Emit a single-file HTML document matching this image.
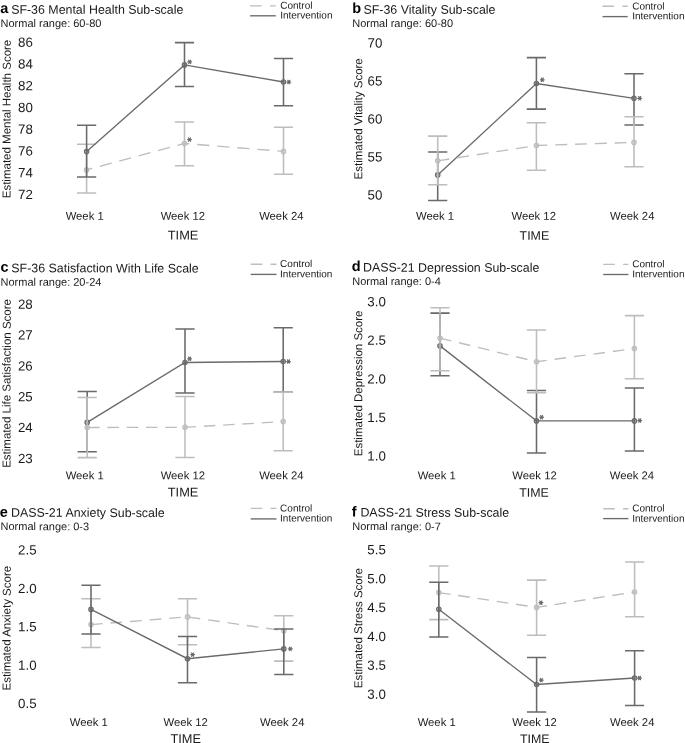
<!DOCTYPE html>
<html><head><meta charset="utf-8"><style>
html,body{margin:0;padding:0;background:#fff;}
svg{display:block;filter:grayscale(1);}
text{font-family:"Liberation Sans", sans-serif;}
</style></head><body>
<svg width="685" height="743" viewBox="0 0 685 743">
<rect width="685" height="743" fill="#fff"/>
<text x="0.3" y="13.1" transform="rotate(0.05 0.3 13.1)" font-size="14.5" font-weight="bold" fill="#000">a</text>
<text x="11.15" y="13.7" transform="rotate(0.05 11.15 13.7)" font-size="12.4" fill="#1a1a1a">SF-36 Mental Health Sub-scale</text>
<text x="0.5" y="27" transform="rotate(0.05 0.5 27)" font-size="11.0" fill="#1a1a1a">Normal range: 60-80</text>
<line x1="250.1" x2="275.8" y1="5.9" y2="5.9" stroke="#bdbdbd" stroke-width="1.35" stroke-dasharray="11.6 8.3"/>
<line x1="250.1" x2="275.8" y1="15.8" y2="15.8" stroke="#6a6a6a" stroke-width="1.35"/>
<text x="280.2" y="8.7" transform="rotate(0.05 280.2 8.7)" font-size="10.0" fill="#1a1a1a">Control</text>
<text x="280.2" y="18.5" transform="rotate(0.05 280.2 18.5)" font-size="10.0" fill="#1a1a1a">Intervention</text>
<text transform="translate(10.6,119) rotate(-89.95)" text-anchor="middle" font-size="11.5" fill="#1a1a1a">Estimated Mental Health Score</text>
<text x="32.83" y="46.74" transform="rotate(0.05 32.83 46.74)" font-size="13.3" text-anchor="end" fill="#1a1a1a">86</text>
<text x="32.83" y="68.48" transform="rotate(0.05 32.83 68.48)" font-size="13.3" text-anchor="end" fill="#1a1a1a">84</text>
<text x="32.83" y="90.22" transform="rotate(0.05 32.83 90.22)" font-size="13.3" text-anchor="end" fill="#1a1a1a">82</text>
<text x="32.83" y="111.97" transform="rotate(0.05 32.83 111.97)" font-size="13.3" text-anchor="end" fill="#1a1a1a">80</text>
<text x="32.83" y="133.71" transform="rotate(0.05 32.83 133.71)" font-size="13.3" text-anchor="end" fill="#1a1a1a">78</text>
<text x="32.83" y="155.45" transform="rotate(0.05 32.83 155.45)" font-size="13.3" text-anchor="end" fill="#1a1a1a">76</text>
<text x="32.83" y="177.2" transform="rotate(0.05 32.83 177.2)" font-size="13.3" text-anchor="end" fill="#1a1a1a">74</text>
<text x="32.83" y="198.94" transform="rotate(0.05 32.83 198.94)" font-size="13.3" text-anchor="end" fill="#1a1a1a">72</text>
<text x="65.64" y="219.7" transform="rotate(0.05 65.64 219.7)" font-size="11.3" fill="#1a1a1a">Week 1</text>
<text x="160.64" y="219.7" transform="rotate(0.05 160.64 219.7)" font-size="11.3" fill="#1a1a1a">Week 12</text>
<text x="259.14" y="219.7" transform="rotate(0.05 259.14 219.7)" font-size="11.3" fill="#1a1a1a">Week 24</text>
<text x="167.78" y="239.6" transform="rotate(0.05 167.78 239.6)" font-size="12.8" fill="#1a1a1a">TIME</text>
<path d="M86.6 144.2V193M77 144.2H96.2M77 193H96.2" stroke="#bdbdbd" stroke-width="1.55" fill="none"/>
<path d="M184.5 122V165.8M174.9 122H194.1M174.9 165.8H194.1" stroke="#bdbdbd" stroke-width="1.55" fill="none"/>
<path d="M283.5 127.2V174.2M273.9 127.2H293.1M273.9 174.2H293.1" stroke="#bdbdbd" stroke-width="1.55" fill="none"/>
<path d="M86.6 169.9 L184.5 143.5 L283.5 151.4" stroke="#bdbdbd" stroke-width="1.35" fill="none" stroke-dasharray="12.2 7.9" stroke-dashoffset="6.4"/>
<circle cx="86.6" cy="169.9" r="2.25" stroke="#bdbdbd" stroke-width="1.1" fill="#bdbdbd" fill-opacity="0.55"/>
<circle cx="184.5" cy="143.5" r="2.25" stroke="#bdbdbd" stroke-width="1.1" fill="#bdbdbd" fill-opacity="0.55"/>
<circle cx="283.5" cy="151.4" r="2.25" stroke="#bdbdbd" stroke-width="1.1" fill="#bdbdbd" fill-opacity="0.55"/>
<path d="M86.6 125.3V176.9M77 125.3H96.2M77 176.9H96.2" stroke="#6a6a6a" stroke-width="1.55" fill="none"/>
<path d="M184.5 42.6V86.5M174.9 42.6H194.1M174.9 86.5H194.1" stroke="#6a6a6a" stroke-width="1.55" fill="none"/>
<path d="M283.5 58.4V105.7M273.9 58.4H293.1M273.9 105.7H293.1" stroke="#6a6a6a" stroke-width="1.55" fill="none"/>
<path d="M86.6 151.6 L184.5 64.9 L283.5 82" stroke="#6a6a6a" stroke-width="1.35" fill="none"/>
<circle cx="86.6" cy="151.6" r="2.25" stroke="#6a6a6a" stroke-width="1.1" fill="#6a6a6a" fill-opacity="0.55"/>
<circle cx="184.5" cy="64.9" r="2.25" stroke="#6a6a6a" stroke-width="1.1" fill="#6a6a6a" fill-opacity="0.55"/>
<circle cx="283.5" cy="82" r="2.25" stroke="#6a6a6a" stroke-width="1.1" fill="#6a6a6a" fill-opacity="0.55"/>
<path d="M187.8 61.9H191.6M188.75 60.25L190.65 63.55M188.75 63.55L190.65 60.25" stroke="#6a6a6a" stroke-width="1.25" stroke-linecap="round" fill="none"/>
<path d="M187.6 139.6H191.4M188.55 137.95L190.45 141.25M188.55 141.25L190.45 137.95" stroke="#6a6a6a" stroke-width="1.25" stroke-linecap="round" fill="none"/>
<path d="M286.9 82H290.7M287.85 80.35L289.75 83.65M287.85 83.65L289.75 80.35" stroke="#6a6a6a" stroke-width="1.25" stroke-linecap="round" fill="none"/>
<text x="352.2" y="13.1" transform="rotate(0.05 352.2 13.1)" font-size="14.5" font-weight="bold" fill="#000">b</text>
<text x="363.5" y="13.7" transform="rotate(0.05 363.5 13.7)" font-size="12.4" fill="#1a1a1a">SF-36 Vitality Sub-scale</text>
<text x="352.2" y="27" transform="rotate(0.05 352.2 27)" font-size="11.0" fill="#1a1a1a">Normal range: 60-80</text>
<line x1="602.5" x2="627.7" y1="6.2" y2="6.2" stroke="#bdbdbd" stroke-width="1.35" stroke-dasharray="11.6 8.3"/>
<line x1="602.5" x2="627.7" y1="16.6" y2="16.6" stroke="#6a6a6a" stroke-width="1.35"/>
<text x="632.2" y="9.5" transform="rotate(0.05 632.2 9.5)" font-size="10.0" fill="#1a1a1a">Control</text>
<text x="632.2" y="19.3" transform="rotate(0.05 632.2 19.3)" font-size="10.0" fill="#1a1a1a">Intervention</text>
<text transform="translate(362.2,118.85) rotate(-89.95)" text-anchor="middle" font-size="11.5" fill="#1a1a1a">Estimated Vitality Score</text>
<text x="382.33" y="47.44" transform="rotate(0.05 382.33 47.44)" font-size="13.3" text-anchor="end" fill="#1a1a1a">70</text>
<text x="382.33" y="85.44" transform="rotate(0.05 382.33 85.44)" font-size="13.3" text-anchor="end" fill="#1a1a1a">65</text>
<text x="382.33" y="123.44" transform="rotate(0.05 382.33 123.44)" font-size="13.3" text-anchor="end" fill="#1a1a1a">60</text>
<text x="382.33" y="161.44" transform="rotate(0.05 382.33 161.44)" font-size="13.3" text-anchor="end" fill="#1a1a1a">55</text>
<text x="382.33" y="199.44" transform="rotate(0.05 382.33 199.44)" font-size="13.3" text-anchor="end" fill="#1a1a1a">50</text>
<text x="416.04" y="219.8" transform="rotate(0.05 416.04 219.8)" font-size="11.3" fill="#1a1a1a">Week 1</text>
<text x="511.54" y="219.8" transform="rotate(0.05 511.54 219.8)" font-size="11.3" fill="#1a1a1a">Week 12</text>
<text x="610.04" y="219.8" transform="rotate(0.05 610.04 219.8)" font-size="11.3" fill="#1a1a1a">Week 24</text>
<text x="519.59" y="239.8" transform="rotate(0.05 519.59 239.8)" font-size="12.4" fill="#1a1a1a">TIME</text>
<path d="M437.7 151.9V200.5M428.1 151.9H447.3M428.1 200.5H447.3" stroke="#6a6a6a" stroke-width="1.55" fill="none"/>
<path d="M536.4 57.6V109.1M526.8 57.6H546M526.8 109.1H546" stroke="#6a6a6a" stroke-width="1.55" fill="none"/>
<path d="M634 73.7V125M624.4 73.7H643.6M624.4 125H643.6" stroke="#6a6a6a" stroke-width="1.55" fill="none"/>
<path d="M437.7 174.9 L536.4 83.5 L634 98.3" stroke="#6a6a6a" stroke-width="1.35" fill="none"/>
<circle cx="437.7" cy="174.9" r="2.25" stroke="#6a6a6a" stroke-width="1.1" fill="#6a6a6a" fill-opacity="0.55"/>
<circle cx="536.4" cy="83.5" r="2.25" stroke="#6a6a6a" stroke-width="1.1" fill="#6a6a6a" fill-opacity="0.55"/>
<circle cx="634" cy="98.3" r="2.25" stroke="#6a6a6a" stroke-width="1.1" fill="#6a6a6a" fill-opacity="0.55"/>
<path d="M437.7 136.1V184.8M428.1 136.1H447.3M428.1 184.8H447.3" stroke="#bdbdbd" stroke-width="1.55" fill="none"/>
<path d="M536.4 122.8V170.2M526.8 122.8H546M526.8 170.2H546" stroke="#bdbdbd" stroke-width="1.55" fill="none"/>
<path d="M634 116.8V166.7M624.4 116.8H643.6M624.4 166.7H643.6" stroke="#bdbdbd" stroke-width="1.55" fill="none"/>
<path d="M437.7 160.8 L536.4 145.5 L634 142.4" stroke="#bdbdbd" stroke-width="1.35" fill="none" stroke-dasharray="11.9 7.9" stroke-dashoffset="0"/>
<circle cx="437.7" cy="160.8" r="2.25" stroke="#bdbdbd" stroke-width="1.1" fill="#bdbdbd" fill-opacity="0.55"/>
<circle cx="536.4" cy="145.5" r="2.25" stroke="#bdbdbd" stroke-width="1.1" fill="#bdbdbd" fill-opacity="0.55"/>
<circle cx="634" cy="142.4" r="2.25" stroke="#bdbdbd" stroke-width="1.1" fill="#bdbdbd" fill-opacity="0.55"/>
<path d="M540.4 79.8H544.2M541.35 78.15L543.25 81.45M541.35 81.45L543.25 78.15" stroke="#6a6a6a" stroke-width="1.25" stroke-linecap="round" fill="none"/>
<path d="M637.8 98.3H641.6M638.75 96.65L640.65 99.95M638.75 99.95L640.65 96.65" stroke="#6a6a6a" stroke-width="1.25" stroke-linecap="round" fill="none"/>
<text x="0.6" y="271.7" transform="rotate(0.05 0.6 271.7)" font-size="14.5" font-weight="bold" fill="#000">c</text>
<text x="11.35" y="272.3" transform="rotate(0.05 11.35 272.3)" font-size="12.4" fill="#1a1a1a">SF-36 Satisfaction With Life Scale</text>
<text x="0.5" y="285.7" transform="rotate(0.05 0.5 285.7)" font-size="11.0" fill="#1a1a1a">Normal range: 20-24</text>
<line x1="250.7" x2="276.5" y1="264.2" y2="264.2" stroke="#bdbdbd" stroke-width="1.35" stroke-dasharray="11.6 8.3"/>
<line x1="250.7" x2="276.5" y1="274.4" y2="274.4" stroke="#6a6a6a" stroke-width="1.35"/>
<text x="280.1" y="267" transform="rotate(0.05 280.1 267)" font-size="10.0" fill="#1a1a1a">Control</text>
<text x="280.1" y="277.2" transform="rotate(0.05 280.1 277.2)" font-size="10.0" fill="#1a1a1a">Intervention</text>
<text transform="translate(10.6,383.45) rotate(-89.95)" text-anchor="middle" font-size="11.5" fill="#1a1a1a">Estimated Life Satisfaction Score</text>
<text x="32.73" y="308.74" transform="rotate(0.05 32.73 308.74)" font-size="13.3" text-anchor="end" fill="#1a1a1a">28</text>
<text x="32.73" y="339.59" transform="rotate(0.05 32.73 339.59)" font-size="13.3" text-anchor="end" fill="#1a1a1a">27</text>
<text x="32.73" y="370.44" transform="rotate(0.05 32.73 370.44)" font-size="13.3" text-anchor="end" fill="#1a1a1a">26</text>
<text x="32.73" y="401.29" transform="rotate(0.05 32.73 401.29)" font-size="13.3" text-anchor="end" fill="#1a1a1a">25</text>
<text x="32.73" y="432.14" transform="rotate(0.05 32.73 432.14)" font-size="13.3" text-anchor="end" fill="#1a1a1a">24</text>
<text x="32.73" y="462.99" transform="rotate(0.05 32.73 462.99)" font-size="13.3" text-anchor="end" fill="#1a1a1a">23</text>
<text x="65.64" y="479.2" transform="rotate(0.05 65.64 479.2)" font-size="11.3" fill="#1a1a1a">Week 1</text>
<text x="160.64" y="479.2" transform="rotate(0.05 160.64 479.2)" font-size="11.3" fill="#1a1a1a">Week 12</text>
<text x="259.14" y="479.2" transform="rotate(0.05 259.14 479.2)" font-size="11.3" fill="#1a1a1a">Week 24</text>
<text x="167.78" y="496.6" transform="rotate(0.05 167.78 496.6)" font-size="12.8" fill="#1a1a1a">TIME</text>
<path d="M87.2 391.4V451.8M77.6 391.4H96.8M77.6 451.8H96.8" stroke="#6a6a6a" stroke-width="1.55" fill="none"/>
<path d="M185 329V393M175.4 329H194.6M175.4 393H194.6" stroke="#6a6a6a" stroke-width="1.55" fill="none"/>
<path d="M283.2 327.8V392.1M273.6 327.8H292.8M273.6 392.1H292.8" stroke="#6a6a6a" stroke-width="1.55" fill="none"/>
<path d="M87.2 422.4 L185 362.5 L283.2 361.5" stroke="#6a6a6a" stroke-width="1.35" fill="none"/>
<circle cx="87.2" cy="422.4" r="2.25" stroke="#6a6a6a" stroke-width="1.1" fill="#6a6a6a" fill-opacity="0.55"/>
<circle cx="185" cy="362.5" r="2.25" stroke="#6a6a6a" stroke-width="1.1" fill="#6a6a6a" fill-opacity="0.55"/>
<circle cx="283.2" cy="361.5" r="2.25" stroke="#6a6a6a" stroke-width="1.1" fill="#6a6a6a" fill-opacity="0.55"/>
<path d="M87.2 397.4V457.6M77.6 397.4H96.8M77.6 457.6H96.8" stroke="#bdbdbd" stroke-width="1.55" fill="none"/>
<path d="M185 396.4V457.5M175.4 396.4H194.6M175.4 457.5H194.6" stroke="#bdbdbd" stroke-width="1.55" fill="none"/>
<path d="M283.2 392.1V450.8M273.6 392.1H292.8M273.6 450.8H292.8" stroke="#bdbdbd" stroke-width="1.55" fill="none"/>
<path d="M87.2 427.5 L185 427.3 L283.2 421.6" stroke="#bdbdbd" stroke-width="1.35" fill="none" stroke-dasharray="11.5 7.8" stroke-dashoffset="18.4"/>
<circle cx="87.2" cy="427.5" r="2.25" stroke="#bdbdbd" stroke-width="1.1" fill="#bdbdbd" fill-opacity="0.55"/>
<circle cx="185" cy="427.3" r="2.25" stroke="#bdbdbd" stroke-width="1.1" fill="#bdbdbd" fill-opacity="0.55"/>
<circle cx="283.2" cy="421.6" r="2.25" stroke="#bdbdbd" stroke-width="1.1" fill="#bdbdbd" fill-opacity="0.55"/>
<path d="M187.7 358.8H191.5M188.65 357.15L190.55 360.45M188.65 360.45L190.55 357.15" stroke="#6a6a6a" stroke-width="1.25" stroke-linecap="round" fill="none"/>
<path d="M286.6 361.5H290.4M287.55 359.85L289.45 363.15M287.55 363.15L289.45 359.85" stroke="#6a6a6a" stroke-width="1.25" stroke-linecap="round" fill="none"/>
<text x="351.8" y="271" transform="rotate(0.05 351.8 271)" font-size="14.5" font-weight="bold" fill="#000">d</text>
<text x="363" y="271.6" transform="rotate(0.05 363 271.6)" font-size="12.4" fill="#1a1a1a">DASS-21 Depression Sub-scale</text>
<text x="352.2" y="285" transform="rotate(0.05 352.2 285)" font-size="11.0" fill="#1a1a1a">Normal range: 0-4</text>
<line x1="603.2" x2="628.4" y1="264.4" y2="264.4" stroke="#bdbdbd" stroke-width="1.35" stroke-dasharray="11.6 8.3"/>
<line x1="603.2" x2="628.4" y1="274.5" y2="274.5" stroke="#6a6a6a" stroke-width="1.35"/>
<text x="632.2" y="267.2" transform="rotate(0.05 632.2 267.2)" font-size="10.0" fill="#1a1a1a">Control</text>
<text x="632.2" y="277.3" transform="rotate(0.05 632.2 277.3)" font-size="10.0" fill="#1a1a1a">Intervention</text>
<text transform="translate(362.2,383.4) rotate(-89.95)" text-anchor="middle" font-size="11.5" fill="#1a1a1a">Estimated Depression Score</text>
<text x="385.86" y="306.29" transform="rotate(0.05 385.86 306.29)" font-size="13.3" text-anchor="end" fill="#1a1a1a">3.0</text>
<text x="385.86" y="344.88" transform="rotate(0.05 385.86 344.88)" font-size="13.3" text-anchor="end" fill="#1a1a1a">2.5</text>
<text x="385.86" y="383.46" transform="rotate(0.05 385.86 383.46)" font-size="13.3" text-anchor="end" fill="#1a1a1a">2.0</text>
<text x="385.86" y="422.05" transform="rotate(0.05 385.86 422.05)" font-size="13.3" text-anchor="end" fill="#1a1a1a">1.5</text>
<text x="385.86" y="460.64" transform="rotate(0.05 385.86 460.64)" font-size="13.3" text-anchor="end" fill="#1a1a1a">1.0</text>
<text x="417.64" y="479.2" transform="rotate(0.05 417.64 479.2)" font-size="11.3" fill="#1a1a1a">Week 1</text>
<text x="512.34" y="479.2" transform="rotate(0.05 512.34 479.2)" font-size="11.3" fill="#1a1a1a">Week 12</text>
<text x="609.74" y="479.2" transform="rotate(0.05 609.74 479.2)" font-size="11.3" fill="#1a1a1a">Week 24</text>
<text x="519.19" y="496.7" transform="rotate(0.05 519.19 496.7)" font-size="12.4" fill="#1a1a1a">TIME</text>
<path d="M440 313.1V375.8M430.4 313.1H449.6M430.4 375.8H449.6" stroke="#6a6a6a" stroke-width="1.55" fill="none"/>
<path d="M536.5 390.4V453M526.9 390.4H546.1M526.9 453H546.1" stroke="#6a6a6a" stroke-width="1.55" fill="none"/>
<path d="M634.4 387.9V451M624.8 387.9H644M624.8 451H644" stroke="#6a6a6a" stroke-width="1.55" fill="none"/>
<path d="M440 345.9 L536.5 420.9 L634.4 420.9" stroke="#6a6a6a" stroke-width="1.35" fill="none"/>
<circle cx="440" cy="345.9" r="2.25" stroke="#6a6a6a" stroke-width="1.1" fill="#6a6a6a" fill-opacity="0.55"/>
<circle cx="536.5" cy="420.9" r="2.25" stroke="#6a6a6a" stroke-width="1.1" fill="#6a6a6a" fill-opacity="0.55"/>
<circle cx="634.4" cy="420.9" r="2.25" stroke="#6a6a6a" stroke-width="1.1" fill="#6a6a6a" fill-opacity="0.55"/>
<path d="M440 307.8V370.7M430.4 307.8H449.6M430.4 370.7H449.6" stroke="#bdbdbd" stroke-width="1.55" fill="none"/>
<path d="M536.5 330V392.7M526.9 330H546.1M526.9 392.7H546.1" stroke="#bdbdbd" stroke-width="1.55" fill="none"/>
<path d="M634.4 315.6V378.7M624.8 315.6H644M624.8 378.7H644" stroke="#bdbdbd" stroke-width="1.55" fill="none"/>
<path d="M440 338.1 L536.5 361.7 L634.4 348.6" stroke="#bdbdbd" stroke-width="1.35" fill="none" stroke-dasharray="11.6 8" stroke-dashoffset="0"/>
<circle cx="440" cy="338.1" r="2.25" stroke="#bdbdbd" stroke-width="1.1" fill="#bdbdbd" fill-opacity="0.55"/>
<circle cx="536.5" cy="361.7" r="2.25" stroke="#bdbdbd" stroke-width="1.1" fill="#bdbdbd" fill-opacity="0.55"/>
<circle cx="634.4" cy="348.6" r="2.25" stroke="#bdbdbd" stroke-width="1.1" fill="#bdbdbd" fill-opacity="0.55"/>
<path d="M539.7 417.2H543.5M540.65 415.55L542.55 418.85M540.65 418.85L542.55 415.55" stroke="#6a6a6a" stroke-width="1.25" stroke-linecap="round" fill="none"/>
<path d="M637.8 420.5H641.6M638.75 418.85L640.65 422.15M638.75 422.15L640.65 418.85" stroke="#6a6a6a" stroke-width="1.25" stroke-linecap="round" fill="none"/>
<text x="-0.2" y="516.8" transform="rotate(0.05 -0.2 516.8)" font-size="14.5" font-weight="bold" fill="#000">e</text>
<text x="11" y="516.8" transform="rotate(0.05 11 516.8)" font-size="12.4" fill="#1a1a1a">DASS-21 Anxiety Sub-scale</text>
<text x="0.5" y="530.1" transform="rotate(0.05 0.5 530.1)" font-size="11.0" fill="#1a1a1a">Normal range: 0-3</text>
<line x1="250.7" x2="276.5" y1="508.4" y2="508.4" stroke="#bdbdbd" stroke-width="1.35" stroke-dasharray="11.6 8.3"/>
<line x1="250.7" x2="276.5" y1="518.9" y2="518.9" stroke="#6a6a6a" stroke-width="1.35"/>
<text x="280.1" y="511.5" transform="rotate(0.05 280.1 511.5)" font-size="10.0" fill="#1a1a1a">Control</text>
<text x="280.1" y="521.5" transform="rotate(0.05 280.1 521.5)" font-size="10.0" fill="#1a1a1a">Intervention</text>
<text transform="translate(10.6,628.2) rotate(-89.95)" text-anchor="middle" font-size="11.5" fill="#1a1a1a">Estimated Anxiety Score</text>
<text x="36.56" y="554.64" transform="rotate(0.05 36.56 554.64)" font-size="13.3" text-anchor="end" fill="#1a1a1a">2.5</text>
<text x="36.56" y="593.01" transform="rotate(0.05 36.56 593.01)" font-size="13.3" text-anchor="end" fill="#1a1a1a">2.0</text>
<text x="36.56" y="631.39" transform="rotate(0.05 36.56 631.39)" font-size="13.3" text-anchor="end" fill="#1a1a1a">1.5</text>
<text x="36.56" y="669.76" transform="rotate(0.05 36.56 669.76)" font-size="13.3" text-anchor="end" fill="#1a1a1a">1.0</text>
<text x="36.56" y="708.14" transform="rotate(0.05 36.56 708.14)" font-size="13.3" text-anchor="end" fill="#1a1a1a">0.5</text>
<text x="69.74" y="725.9" transform="rotate(0.05 69.74 725.9)" font-size="11.3" fill="#1a1a1a">Week 1</text>
<text x="163.44" y="725.9" transform="rotate(0.05 163.44 725.9)" font-size="11.3" fill="#1a1a1a">Week 12</text>
<text x="260.04" y="725.9" transform="rotate(0.05 260.04 725.9)" font-size="11.3" fill="#1a1a1a">Week 24</text>
<text x="170.38" y="743.1" transform="rotate(0.05 170.38 743.1)" font-size="12.8" fill="#1a1a1a">TIME</text>
<path d="M91 598.8V647.5M81.4 598.8H100.6M81.4 647.5H100.6" stroke="#bdbdbd" stroke-width="1.55" fill="none"/>
<path d="M187.5 598.8V644.8M177.9 598.8H197.1M177.9 644.8H197.1" stroke="#bdbdbd" stroke-width="1.55" fill="none"/>
<path d="M283.8 615.8V661.1M274.2 615.8H293.4M274.2 661.1H293.4" stroke="#bdbdbd" stroke-width="1.55" fill="none"/>
<path d="M91 624.6 L187.5 616.9 L283.8 630.8" stroke="#bdbdbd" stroke-width="1.35" fill="none" stroke-dasharray="11.7 7.9" stroke-dashoffset="0"/>
<circle cx="91" cy="624.6" r="2.25" stroke="#bdbdbd" stroke-width="1.1" fill="#bdbdbd" fill-opacity="0.55"/>
<circle cx="187.5" cy="616.9" r="2.25" stroke="#bdbdbd" stroke-width="1.1" fill="#bdbdbd" fill-opacity="0.55"/>
<circle cx="283.8" cy="630.8" r="2.25" stroke="#bdbdbd" stroke-width="1.1" fill="#bdbdbd" fill-opacity="0.55"/>
<path d="M91 585.2V634M81.4 585.2H100.6M81.4 634H100.6" stroke="#6a6a6a" stroke-width="1.55" fill="none"/>
<path d="M187.5 636.5V682.7M177.9 636.5H197.1M177.9 682.7H197.1" stroke="#6a6a6a" stroke-width="1.55" fill="none"/>
<path d="M283.8 628.9V674.4M274.2 628.9H293.4M274.2 674.4H293.4" stroke="#6a6a6a" stroke-width="1.55" fill="none"/>
<path d="M91 609.4 L187.5 658.7 L283.8 648.9" stroke="#6a6a6a" stroke-width="1.35" fill="none"/>
<circle cx="91" cy="609.4" r="2.25" stroke="#6a6a6a" stroke-width="1.1" fill="#6a6a6a" fill-opacity="0.55"/>
<circle cx="187.5" cy="658.7" r="2.25" stroke="#6a6a6a" stroke-width="1.1" fill="#6a6a6a" fill-opacity="0.55"/>
<circle cx="283.8" cy="648.9" r="2.25" stroke="#6a6a6a" stroke-width="1.1" fill="#6a6a6a" fill-opacity="0.55"/>
<path d="M190.7 654.6H194.5M191.65 652.95L193.55 656.25M191.65 656.25L193.55 652.95" stroke="#6a6a6a" stroke-width="1.25" stroke-linecap="round" fill="none"/>
<path d="M288.4 648.9H292.2M289.35 647.25L291.25 650.55M289.35 650.55L291.25 647.25" stroke="#6a6a6a" stroke-width="1.25" stroke-linecap="round" fill="none"/>
<text x="351.7" y="516.6" transform="rotate(0.05 351.7 516.6)" font-size="14.5" font-weight="bold" fill="#000">f</text>
<text x="360.4" y="516.6" transform="rotate(0.05 360.4 516.6)" font-size="12.4" fill="#1a1a1a">DASS-21 Stress Sub-scale</text>
<text x="352.2" y="530.1" transform="rotate(0.05 352.2 530.1)" font-size="11.0" fill="#1a1a1a">Normal range: 0-7</text>
<line x1="603.2" x2="628.4" y1="508.7" y2="508.7" stroke="#bdbdbd" stroke-width="1.35" stroke-dasharray="11.6 8.3"/>
<line x1="603.2" x2="628.4" y1="518.6" y2="518.6" stroke="#6a6a6a" stroke-width="1.35"/>
<text x="632.2" y="511.4" transform="rotate(0.05 632.2 511.4)" font-size="10.0" fill="#1a1a1a">Control</text>
<text x="632.2" y="521.8" transform="rotate(0.05 632.2 521.8)" font-size="10.0" fill="#1a1a1a">Intervention</text>
<text transform="translate(362.2,628.15) rotate(-89.95)" text-anchor="middle" font-size="11.5" fill="#1a1a1a">Estimated Stress Score</text>
<text x="385.86" y="554.34" transform="rotate(0.05 385.86 554.34)" font-size="13.3" text-anchor="end" fill="#1a1a1a">5.5</text>
<text x="385.86" y="583.22" transform="rotate(0.05 385.86 583.22)" font-size="13.3" text-anchor="end" fill="#1a1a1a">5.0</text>
<text x="385.86" y="612.1" transform="rotate(0.05 385.86 612.1)" font-size="13.3" text-anchor="end" fill="#1a1a1a">4.5</text>
<text x="385.86" y="640.98" transform="rotate(0.05 385.86 640.98)" font-size="13.3" text-anchor="end" fill="#1a1a1a">4.0</text>
<text x="385.86" y="669.86" transform="rotate(0.05 385.86 669.86)" font-size="13.3" text-anchor="end" fill="#1a1a1a">3.5</text>
<text x="385.86" y="698.74" transform="rotate(0.05 385.86 698.74)" font-size="13.3" text-anchor="end" fill="#1a1a1a">3.0</text>
<text x="417.64" y="726" transform="rotate(0.05 417.64 726)" font-size="11.3" fill="#1a1a1a">Week 1</text>
<text x="512.34" y="726" transform="rotate(0.05 512.34 726)" font-size="11.3" fill="#1a1a1a">Week 12</text>
<text x="610.04" y="726" transform="rotate(0.05 610.04 726)" font-size="11.3" fill="#1a1a1a">Week 24</text>
<text x="519.99" y="743.1" transform="rotate(0.05 519.99 743.1)" font-size="12.4" fill="#1a1a1a">TIME</text>
<path d="M438.8 565.9V619.6M429.2 565.9H448.4M429.2 619.6H448.4" stroke="#bdbdbd" stroke-width="1.55" fill="none"/>
<path d="M536.6 580.1V635.3M527 580.1H546.2M527 635.3H546.2" stroke="#bdbdbd" stroke-width="1.55" fill="none"/>
<path d="M634.6 561.9V616.7M625 561.9H644.2M625 616.7H644.2" stroke="#bdbdbd" stroke-width="1.55" fill="none"/>
<path d="M438.8 592.6 L536.6 607.4 L634.6 592" stroke="#bdbdbd" stroke-width="1.35" fill="none" stroke-dasharray="11.8 7.7" stroke-dashoffset="0"/>
<circle cx="438.8" cy="592.6" r="2.25" stroke="#bdbdbd" stroke-width="1.1" fill="#bdbdbd" fill-opacity="0.55"/>
<circle cx="536.6" cy="607.4" r="2.25" stroke="#bdbdbd" stroke-width="1.1" fill="#bdbdbd" fill-opacity="0.55"/>
<circle cx="634.6" cy="592" r="2.25" stroke="#bdbdbd" stroke-width="1.1" fill="#bdbdbd" fill-opacity="0.55"/>
<path d="M438.8 582.3V637M429.2 582.3H448.4M429.2 637H448.4" stroke="#6a6a6a" stroke-width="1.55" fill="none"/>
<path d="M536.6 657.5V712M527 657.5H546.2M527 712H546.2" stroke="#6a6a6a" stroke-width="1.55" fill="none"/>
<path d="M634.6 650.7V705.5M625 650.7H644.2M625 705.5H644.2" stroke="#6a6a6a" stroke-width="1.55" fill="none"/>
<path d="M438.8 609.3 L536.6 684.5 L634.6 678" stroke="#6a6a6a" stroke-width="1.35" fill="none"/>
<circle cx="438.8" cy="609.3" r="2.25" stroke="#6a6a6a" stroke-width="1.1" fill="#6a6a6a" fill-opacity="0.55"/>
<circle cx="536.6" cy="684.5" r="2.25" stroke="#6a6a6a" stroke-width="1.1" fill="#6a6a6a" fill-opacity="0.55"/>
<circle cx="634.6" cy="678" r="2.25" stroke="#6a6a6a" stroke-width="1.1" fill="#6a6a6a" fill-opacity="0.55"/>
<path d="M539 602.7H542.8M539.95 601.05L541.85 604.35M539.95 604.35L541.85 601.05" stroke="#6a6a6a" stroke-width="1.25" stroke-linecap="round" fill="none"/>
<path d="M539.4 680.1H543.2M540.35 678.45L542.25 681.75M540.35 681.75L542.25 678.45" stroke="#6a6a6a" stroke-width="1.25" stroke-linecap="round" fill="none"/>
<path d="M637.6 678H641.4M638.55 676.35L640.45 679.65M638.55 679.65L640.45 676.35" stroke="#6a6a6a" stroke-width="1.25" stroke-linecap="round" fill="none"/>
</svg>
</body></html>
